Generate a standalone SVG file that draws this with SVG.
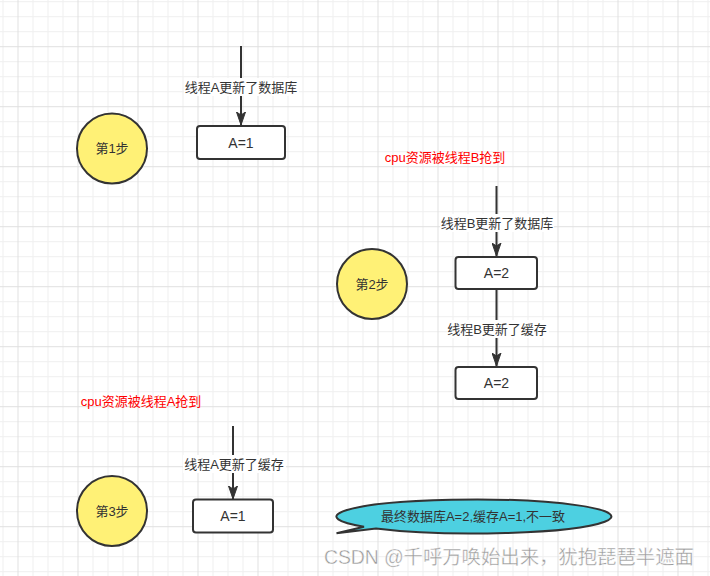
<svg xmlns="http://www.w3.org/2000/svg" width="710" height="576" viewBox="0 0 710 576">
<defs>
<pattern id="grid" patternUnits="userSpaceOnUse" x="17.5" y="46.2" width="60" height="60">
<rect width="60" height="60" fill="#ffffff"/>
<rect x="15" y="0" width="1" height="60" fill="#efefef"/>
<rect x="30" y="0" width="1" height="60" fill="#efefef"/>
<rect x="45" y="0" width="1" height="60" fill="#efefef"/>
<rect x="0" y="15" width="60" height="1" fill="#efefef"/>
<rect x="0" y="30" width="60" height="1" fill="#efefef"/>
<rect x="0" y="45" width="60" height="1" fill="#efefef"/>
<rect x="0" y="0" width="1" height="60" fill="#e0e0e0"/>
<rect x="0" y="0" width="60" height="1" fill="#e0e0e0"/>
</pattern>
<marker id="arr" markerUnits="userSpaceOnUse" viewBox="0 0 14 10" refX="13" refY="5" markerWidth="14" markerHeight="10" orient="auto">
<path d="M0,0.5 L13,5 L0,9.5 L3,5 Z" fill="#333333" stroke="#333333" stroke-width="1"/>
</marker>
</defs>
<style>
.t{font-family:"Liberation Sans","Noto Sans CJK SC",sans-serif;font-size:13px;fill:#333333;text-anchor:middle}
.box{fill:#ffffff;stroke:#333333;stroke-width:2}
.step{fill:#fff176;stroke:#333333;stroke-width:2}
.v{font-family:"Liberation Sans","Noto Sans CJK SC",sans-serif;font-size:14px;fill:#333333;text-anchor:middle}
.red{font-family:"Liberation Sans","Noto Sans CJK SC",sans-serif;font-size:13px;fill:#ff0000;text-anchor:middle}
.edge{stroke:#333333;stroke-width:2;fill:none;marker-end:url(#arr)}
.lbg{fill:#ffffff}
</style>
<rect width="710" height="576" fill="url(#grid)"/>

<g id="connectors">
<line class="edge" x1="241" y1="46" x2="241" y2="125"/>
<line class="edge" x1="496.5" y1="186" x2="496.5" y2="256"/>
<line class="edge" x1="496.5" y1="289" x2="496.5" y2="366"/>
<line class="edge" x1="233" y1="426" x2="233" y2="499"/>
<rect class="lbg" x="184" y="78" width="115" height="18"/>
<text class="t" x="241" y="91.5">线程A更新了数据库</text>
<rect class="lbg" x="440" y="214" width="114" height="18"/>
<text class="t" x="497" y="227.5">线程B更新了数据库</text>
<rect class="lbg" x="447" y="320" width="102" height="18"/>
<text class="t" x="497" y="333.5">线程B更新了缓存</text>
<rect class="lbg" x="183" y="455" width="103" height="18"/>
<text class="t" x="234" y="468.5">线程A更新了缓存</text>
</g>

<g id="box1"><rect class="box" x="197" y="126" width="88" height="33" rx="3"/><text class="v" x="241" y="147.5">A=1</text></g>
<g id="box2"><rect class="box" x="455.5" y="257" width="81.5" height="32" rx="3"/><text class="v" x="496.5" y="278">A=2</text></g>
<g id="box3"><rect class="box" x="455.5" y="367" width="81.5" height="32" rx="3"/><text class="v" x="496.5" y="388">A=2</text></g>
<g id="box4"><rect class="box" x="193" y="499.5" width="80" height="33" rx="3"/><text class="v" x="233" y="521">A=1</text></g>

<g id="step1"><circle class="step" cx="112" cy="148.5" r="35"/><text class="t" x="112" y="153">第1步</text></g>
<g id="step2"><circle class="step" cx="372" cy="284" r="35"/><text class="t" x="372" y="288.5">第2步</text></g>
<g id="step3"><circle class="step" cx="112" cy="511" r="35"/><text class="t" x="112" y="515.5">第3步</text></g>

<g id="note1"><text class="red" x="445" y="161.5">cpu资源被线程B抢到</text></g>
<g id="note2"><text class="red" x="141" y="405.5">cpu资源被线程A抢到</text></g>

<g id="callout">
<path d="M364,526.7 A137.5,17 0 1 1 376,528.42 L336.5,533.3 Z" fill="#4dd0e1" stroke="#333333" stroke-width="2" stroke-linejoin="miter"/>
<text class="t" x="473" y="521">最终数据库A=2,缓存A=1,不一致</text>
</g>

<text x="324" y="564" font-family="Liberation Sans, Noto Sans CJK SC, sans-serif" font-size="19.5" fill="#9a9a9a" stroke="#ffffff" stroke-width="0.4" textLength="370">CSDN @千呼万唤始出来，犹抱琵琶半遮面</text>
</svg>
